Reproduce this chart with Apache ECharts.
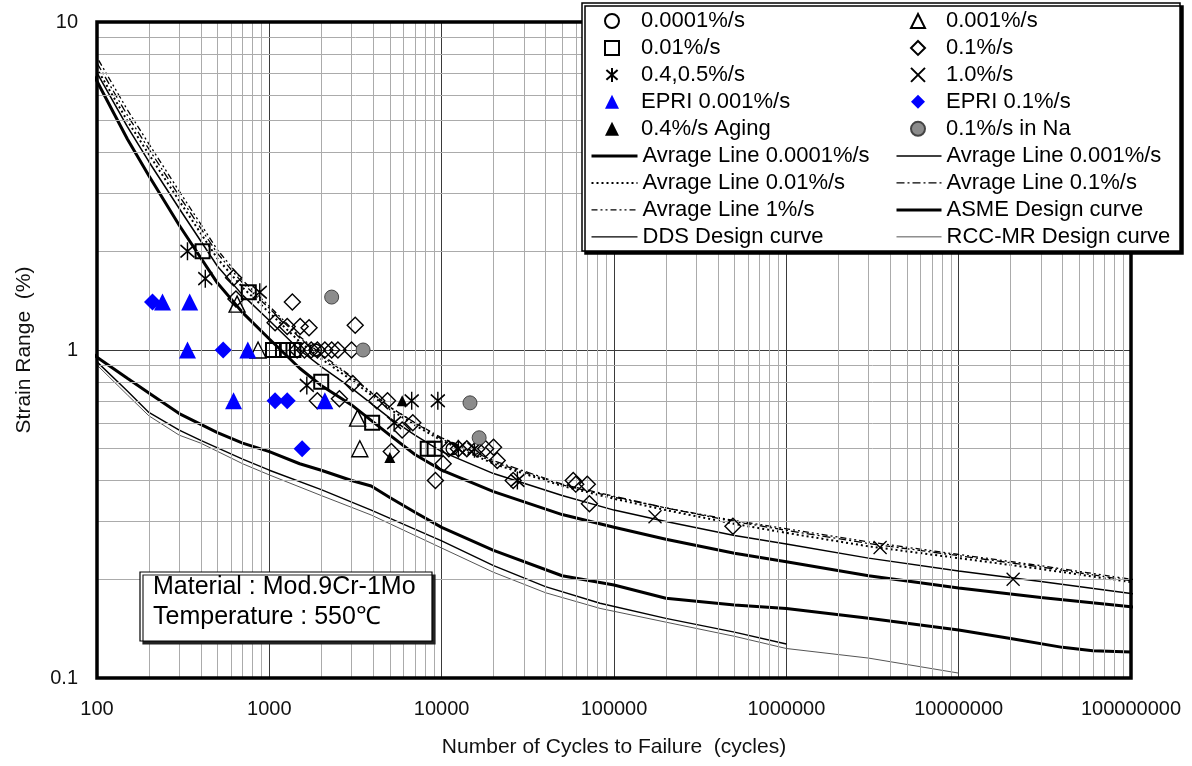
<!DOCTYPE html>
<html><head><meta charset="utf-8">
<script src="https://cdn.jsdelivr.net/npm/echarts@6/dist/echarts.min.js"></script>
<style>html,body{margin:0;padding:0;background:#fff}#c{width:1192px;height:766px}</style>
</head><body><div id="c"></div>
<script>
// ---------------- DATA ----------------
const xTicks = [100, 1000, 10000, 100000, 1000000, 10000000, 100000000];
const yTicks = [0.1, 1, 10];

// average / design curves (cycles, strain range %)
const avgN = [88, 100, 150, 200, 300, 500, 700, 1000, 1500, 2000, 3000, 5000, 7000, 1e4, 2e4, 5e4, 1e5, 2e5, 5e5, 1e6, 3e6, 1e7, 3e7, 1e8, 1.1e8];
const avg00001S = [7.3, 6.6, 4.4, 3.4, 2.4, 1.6, 1.3, 1.08, 0.88, 0.78, 0.68, 0.55, 0.48, 0.43, 0.37, 0.315, 0.288, 0.265, 0.24, 0.226, 0.205, 0.188, 0.176, 0.165, 0.164];
const avg0001S  = [7.6, 7.0, 4.8, 3.75, 2.7, 1.8, 1.47, 1.23, 1.0, 0.89, 0.765, 0.62, 0.55, 0.49, 0.42, 0.36, 0.325, 0.3, 0.272, 0.256, 0.232, 0.212, 0.197, 0.181, 0.18];
const avg001S   = [7.9, 7.2, 5.0, 3.95, 2.85, 1.9, 1.55, 1.3, 1.06, 0.94, 0.81, 0.66, 0.59, 0.53, 0.45, 0.385, 0.352, 0.325, 0.295, 0.277, 0.252, 0.232, 0.215, 0.196, 0.195];
const avg01S    = [8.2, 7.5, 5.2, 4.1, 2.95, 1.97, 1.6, 1.34, 1.09, 0.96, 0.825, 0.67, 0.6, 0.54, 0.46, 0.39, 0.358, 0.33, 0.3, 0.282, 0.257, 0.236, 0.218, 0.198, 0.197];
const avg1S     = [8.5, 7.8, 5.4, 4.25, 3.05, 2.02, 1.63, 1.36, 1.1, 0.97, 0.83, 0.67, 0.6, 0.535, 0.455, 0.388, 0.356, 0.33, 0.302, 0.285, 0.26, 0.238, 0.22, 0.2, 0.199];

const asmeN = [90, 100, 150, 200, 300, 500, 700, 1000, 1500, 2000, 3000, 3900, 5000, 7000, 1e4, 2e4, 5e4, 1e5, 2e5, 5e5, 1e6, 3e6, 1e7, 2e7, 4e7, 6e7, 1e8];
const asmeS = [1.0, 0.95, 0.82, 0.74, 0.64, 0.56, 0.52, 0.49, 0.45, 0.43, 0.40, 0.385, 0.355, 0.32, 0.288, 0.245, 0.205, 0.192, 0.175, 0.167, 0.163, 0.152, 0.14, 0.132, 0.124, 0.121, 0.12];

const ddsN = [90, 100, 150, 200, 300, 400, 700, 1000, 2000, 3900, 1e4, 2e4, 4e4, 8.3e4, 2e5, 5e5, 1e6];
const ddsS = [0.95, 0.92, 0.75, 0.645, 0.57, 0.53, 0.465, 0.43, 0.375, 0.325, 0.262, 0.22, 0.19, 0.169, 0.152, 0.138, 0.127];

const rccN = [90, 100, 150, 200, 300, 400, 700, 1000, 2000, 3900, 1e4, 2e4, 4e4, 8.3e4, 2e5, 5e5, 1e6, 3e6, 1e7];
const rccS = [0.92, 0.9, 0.73, 0.63, 0.55, 0.52, 0.45, 0.416, 0.36, 0.314, 0.249, 0.21, 0.182, 0.163, 0.148, 0.134, 0.123, 0.115, 0.1035];

// test data points
const r00001N = [1850, 11500];
const r00001S = [1.0, 0.5];
const r0001N = [650, 860, 3250, 3350];
const r0001S = [1.38, 1.0, 0.62, 0.5];
const r001N = [410, 760, 1050, 1200, 1280, 1380, 2000, 3950, 8300, 9100];
const r001S = [2.0, 1.5, 1.0, 1.0, 1.0, 1.0, 0.8, 0.6, 0.5, 0.5];
const r01N = [620, 640, 1080, 1270, 1360, 1510, 1700, 3150, 1450, 1600, 1750, 1900, 2100, 2300, 2500, 3000, 3050, 1900, 2550, 4200, 4850, 5100, 5900, 6800, 9200, 10200, 11000, 12500, 14000, 16000, 18000, 20000, 21000, 26000, 58000, 60000, 70000, 72000, 490000];
const r01S = [1.66, 1.43, 1.21, 1.18, 1.4, 1.18, 1.17, 1.19, 1.0, 1.0, 1.0, 1.0, 1.0, 1.0, 1.0, 1.0, 0.79, 0.7, 0.71, 0.7, 0.7, 0.49, 0.57, 0.6, 0.4, 0.45, 0.5, 0.5, 0.5, 0.5, 0.5, 0.505, 0.46, 0.4, 0.4, 0.39, 0.39, 0.34, 0.29];
const r045N = [335, 425, 880, 1650, 5300, 6700, 9500, 27500, 12500, 15500];
const r045S = [2.0, 1.65, 1.5, 0.78, 0.6, 0.7, 0.7, 0.4, 0.5, 0.5];
const r1N = [173000, 3500000, 20700000];
const r1S = [0.31, 0.25, 0.2];
const epri0001N = [240, 345, 335, 750, 620, 2100];
const epri0001S = [1.4, 1.4, 1.0, 1.0, 0.7, 0.7];
const epri01N = [210, 540, 1080, 1270, 1550];
const epri01S = [1.4, 1.0, 0.7, 0.7, 0.5];
const agingN = [5900, 5000];
const agingS = [0.7, 0.47];
const naN = [2300, 3500, 14600, 16500];
const naS = [1.45, 1.0, 0.69, 0.54];

// minor grid values
const xMinor = [];
[100, 1000, 1e4, 1e5, 1e6, 1e7].forEach(d => { for (let k = 2; k <= 9; k++) xMinor.push(k * d); });
const yMinor = [];
[0.1, 1].forEach(d => { for (let k = 2; k <= 9; k++) yMinor.push(+(k * d).toFixed(2)); });

// ---------------- CHART ----------------
const FONT = '"Liberation Sans", Arial, sans-serif';
const pts = (N, S) => N.map((n, i) => [n, S[i]]);
const hollow = { color: 'rgba(0,0,0,0)', borderColor: '#000', borderWidth: 1.4, opacity: 1 };
const asterisk = 'path://M0,-10L0,10M-8,-7L8,7M-8,7L8,-7';
const cross = 'path://M-8,-8L8,8M-8,8L8,-8';

function curve(name, N, S, width, type, color) {
  return { name, type: 'line', data: pts(N, S), symbol: 'none', clip: false, z: 3, silent: true,
    lineStyle: { color: color || '#000', width, type }, itemStyle: { color: color || '#000' } };
}
function scat(name, N, S, symbol, size, itemStyle) {
  return { name, type: 'scatter', data: pts(N, S), symbol, symbolSize: size,
    itemStyle: Object.assign({ opacity: 1 }, itemStyle), z: 5, silent: true };
}

const chart = echarts.init(document.getElementById('c'), null, { renderer: 'canvas' });
const mkText = pad => ({ fontSize: 22, lineHeight: 22, color: '#000', fontFamily: FONT, padding: [0, 0, 0, pad] });
const legBase = { orient: 'vertical', padding: 0, itemGap: 4.95, itemHeight: 14, selectedMode: false, z: 20 };

chart.setOption({
  animation: false,
  backgroundColor: '#fff',
  grid: { left: 97, top: 22, right: 61, bottom: 88, show: true, borderColor: '#000', borderWidth: 3.5, backgroundColor: 'rgba(0,0,0,0)', z: 6 },
  xAxis: {
    type: 'log', logBase: 10, min: 100, max: 1e8,
    axisLine: { show: false }, axisTick: { show: false },
    axisLabel: { color: '#111', fontSize: 20, fontFamily: FONT, margin: 21, formatter: v => String(Math.round(v)) },
    splitLine: { show: true, lineStyle: { color: '#3a3a3a', width: 1 } },
    name: 'Number of Cycles to Failure  (cycles)', nameLocation: 'middle', nameGap: 59,
    nameTextStyle: { color: '#111', fontSize: 21, fontFamily: FONT }
  },
  yAxis: {
    type: 'log', logBase: 10, min: 0.1, max: 10,
    axisLine: { show: false }, axisTick: { show: false },
    axisLabel: { color: '#111', fontSize: 20, fontFamily: FONT, margin: 19, formatter: v => v >= 1 ? String(Math.round(v)) : v.toFixed(1) },
    splitLine: { show: true, lineStyle: { color: '#3a3a3a', width: 1 } },
    name: 'Strain Range  (%)', nameLocation: 'middle', nameGap: 62, nameRotate: 90,
    nameTextStyle: { color: '#111', fontSize: 21, fontFamily: FONT }
  },
  legend: [
    Object.assign({}, legBase, { left: 604, top: 10, itemWidth: 14, textStyle: mkText(17),
      data: ['0.0001%/s', '0.01%/s', '0.4,0.5%/s', 'EPRI 0.001%/s', '0.4%/s Aging'] }),
    Object.assign({}, legBase, { left: 910, top: 10, itemWidth: 14, textStyle: mkText(16),
      data: ['0.001%/s', '0.1%/s', '1.0%/s', 'EPRI 0.1%/s', '0.1%/s in Na'] }),
    Object.assign({}, legBase, { left: 590, top: 145, itemWidth: 46, textStyle: mkText(0), itemStyle: { opacity: 0 },
      lineStyle: { width: 'inherit', type: 'inherit', color: 'inherit' },
      data: ['Avrage Line 0.0001%/s', 'Avrage Line 0.01%/s', 'Avrage Line 1%/s', 'DDS Design curve'] }),
    Object.assign({}, legBase, { left: 895, top: 145, itemWidth: 45, textStyle: mkText(0), itemStyle: { opacity: 0 },
      lineStyle: { width: 'inherit', type: 'inherit', color: 'inherit' },
      data: ['Avrage Line 0.001%/s', 'Avrage Line 0.1%/s', 'ASME Design curve', 'RCC-MR Design curve'] })
  ],
  graphic: [
    { type: 'rect', z: 15, shape: { x: 582, y: 3, width: 598, height: 248 },
      style: { fill: '#fff', stroke: '#000', lineWidth: 1.5, shadowColor: '#000', shadowOffsetX: 3, shadowOffsetY: 3, shadowBlur: 0 } },
    { type: 'rect', z: 15, shape: { x: 140, y: 572, width: 292, height: 69 },
      style: { fill: '#fff', stroke: '#000', lineWidth: 1.2, shadowColor: '#222', shadowOffsetX: 3, shadowOffsetY: 3, shadowBlur: 0 } },
    { type: 'text', z: 16, left: 153, top: 575, style: { text: 'Material : Mod.9Cr-1Mo', font: '25px ' + FONT, fill: '#000' } },
    { type: 'text', z: 16, left: 153, top: 605, style: { text: 'Temperature : 550℃', font: '25px ' + FONT, fill: '#000' } }
  ],
  series: [
    { name: 'gridMinor', type: 'line', data: [], symbol: 'none', z: 1, silent: true,
      markLine: { silent: true, symbol: ['none', 'none'], label: { show: false }, animation: false,
        lineStyle: { color: '#ababab', width: 1, type: 'solid' },
        data: xMinor.map(v => ({ xAxis: v })).concat(yMinor.map(v => ({ yAxis: v }))) } },
    curve('Avrage Line 0.0001%/s', avgN, avg00001S, 3),
    curve('Avrage Line 0.001%/s', avgN, avg0001S, 1.5, 'solid'),
    curve('Avrage Line 0.01%/s', avgN, avg001S, 2, [2, 3]),
    curve('Avrage Line 0.1%/s', avgN, avg01S, 1.3, [8, 3, 2, 3]),
    curve('Avrage Line 1%/s', avgN, avg1S, 1.3, [6, 3, 2, 3, 2, 3]),
    curve('ASME Design curve', asmeN, asmeS, 3),
    curve('DDS Design curve', ddsN, ddsS, 1.4),
    curve('RCC-MR Design curve', rccN, rccS, 1, 'solid', '#555'),
    scat('0.0001%/s', r00001N, r00001S, 'circle', 12, hollow),
    scat('0.001%/s', r0001N, r0001S, 'triangle', 16, hollow),
    scat('0.01%/s', r001N, r001S, 'rect', 14, { color: 'rgba(0,0,0,0)', borderColor: '#000', borderWidth: 2 }),
    scat('0.1%/s', r01N, r01S, 'diamond', 16, hollow),
    scat('0.4,0.5%/s', r045N, r045S, asterisk, [14, 18], { color: 'rgba(0,0,0,0)', borderColor: '#000', borderWidth: 1.6 }),
    scat('1.0%/s', r1N, r1S, cross, 13, { color: 'rgba(0,0,0,0)', borderColor: '#000', borderWidth: 1.3 }),
    scat('EPRI 0.001%/s', epri0001N, epri0001S, 'triangle', 17, { color: '#0000ff' }),
    scat('EPRI 0.1%/s', epri01N, epri01S, 'diamond', 17, { color: '#0000ff' }),
    scat('0.4%/s Aging', agingN, agingS, 'triangle', 11, { color: '#000' }),
    scat('0.1%/s in Na', naN, naS, 'circle', 14, { color: '#8c8c8c', borderColor: '#444', borderWidth: 1 })
  ]
});
</script></body></html>
